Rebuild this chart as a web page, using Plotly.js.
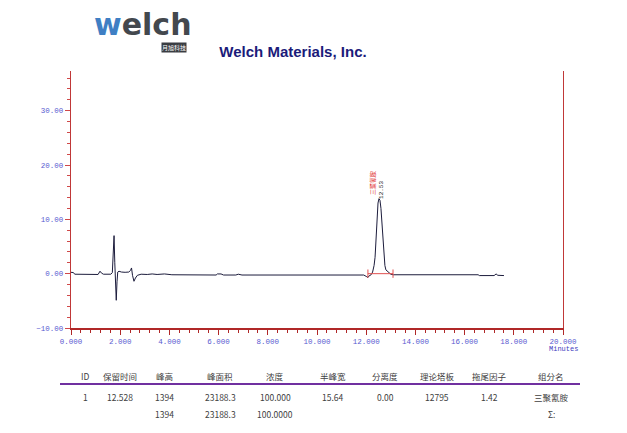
<!DOCTYPE html>
<html>
<head>
<meta charset="utf-8">
<script src="https://cdn.plot.ly/plotly-3.0.1.min.js"></script>
<style>
html,body{margin:0;padding:0;background:#fff;}
#chart{width:627px;height:433px;}
</style>
</head>
<body>
<div id="chart"></div>
<script>
// ---- data ----
const timeMin = [0.00,0.10,0.15,0.60,1.10,1.18,1.24,1.32,1.62,1.68,1.72,1.75,1.78,1.81,1.84,1.87,1.90,1.95,2.05,2.20,2.35,2.42,2.46,2.50,2.56,2.62,2.70,2.85,3.10,3.30,3.50,3.80,4.10,5.90,5.95,6.10,6.20,6.70,6.80,6.95,8.00,9.50,10.50,11.60,11.90,12.00,12.07,12.12,12.20,12.26,12.32,12.36,12.40,12.44,12.48,12.52,12.56,12.60,12.64,12.68,12.72,12.76,12.80,12.86,12.92,13.00,13.10,14.00,15.50,16.55,16.60,17.20,17.28,17.35,17.60];
const signal  = [0.25,0.20,-0.10,-0.15,-0.15,0.45,0.10,-0.10,-0.10,0.20,3.50,7.00,2.00,-3.00,-4.90,-1.50,0.30,0.45,0.30,0.25,0.30,0.60,1.05,-0.30,-1.40,-0.80,-0.30,-0.10,-0.15,-0.05,-0.15,-0.05,-0.20,-0.25,-0.05,-0.05,-0.25,-0.25,-0.10,-0.25,-0.25,-0.30,-0.25,-0.30,-0.25,-0.50,-0.70,-0.40,-0.20,0.30,1.50,3.00,6.50,10.50,13.00,13.80,13.50,12.00,9.00,5.50,3.00,1.50,0.70,0.40,0.20,-0.10,-0.20,-0.20,-0.25,-0.20,-0.35,-0.35,-0.05,-0.30,-0.35];
const baseT = [12.07, 13.09];
const baseY = [0, 0];
const peakName = '三聚氰胺';
const peakRT = '12.53';
const peakNameAt = [12.28, 16.7];
const peakRTAt = [12.64, 15.4];
const xTickFormat = '.3f';
const yTickFormat = '.2f';
const tableHeader = ['ID','保留时间','峰高','峰面积','浓度','半峰宽','分离度','理论塔板','拖尾因子','组分名'];
const tableRow1   = ['1','12.528','1394','23188.3','100.000','15.64','0.00','12795','1.42','三聚氰胺'];
const tableRow2   = ['','','1394','23188.3','100.0000','','','','','Σ:'];
const chartTitle = 'Welch Materials, Inc.';
const xUnit = 'Minutes';

// ---- layout helpers ----
const W = 627, H = 433;
const L = 71, R = 563, T = 71, B = 328;
const px = x => (x - L) / (R - L);
const py = y => (B - y) / (B - T);
const colX = [85, 120, 164, 220, 275, 333, 385, 437, 489, 551];
const rowY = [376, 397, 414];

const ann = [];
const tfont = {family:'Noto Sans CJK SC, SimSun, sans-serif', size:8.5, color:'#404040'};
[tableHeader, tableRow1, tableRow2].forEach((row, r) => {
  row.forEach((txt, c) => {
    if (!txt) return;
    ann.push({text: txt, xref:'paper', yref:'paper', x: px(colX[c]), y: py(rowY[r]),
      xanchor:'center', yanchor:'middle', showarrow:false, font: tfont});
  });
});
// peak labels
ann.push({text: peakName, x: peakNameAt[0], y: peakNameAt[1], xref:'x', yref:'y', showarrow:false,
  textangle:-90, font:{family:'Noto Sans CJK SC, sans-serif', size:6, color:'#e03030'}});
ann.push({text: peakRT, x: peakRTAt[0], y: peakRTAt[1], xref:'x', yref:'y', showarrow:false,
  textangle:-90, font:{family:'Liberation Mono, monospace', size:6, color:'#202020'}});
// x unit
ann.push({text: xUnit, xref:'paper', yref:'paper', x: px(563), y: py(349), xanchor:'left', yanchor:'middle',
  xshift:-16, showarrow:false, font:{family:'Liberation Mono, monospace', size:7, color:'#4040c0'}});
// logo
ann.push({text: '<b><span style="color:#3f7fc4">w</span>elch</b>', xref:'paper', yref:'paper',
  x: px(92), y: py(25), xanchor:'left', yanchor:'middle', showarrow:false,
  font:{family:'DejaVu Sans, sans-serif', size:30, color:'#43484e'}});
ann.push({text: '月旭科技', xref:'paper', yref:'paper', x: px(174), y: py(47), xanchor:'center', yanchor:'middle',
  showarrow:false, bgcolor:'#3a3d42', borderpad:0, font:{family:'Noto Sans CJK SC, sans-serif', size:6, color:'#ffffff'}});

const axisFont = {family:'Liberation Mono, monospace', size:7.5, color:'#5a5ad0'};

const traces = [
  {x: timeMin, y: signal, type:'scatter', mode:'lines', line:{color:'#1c1c3c', width:1}, hoverinfo:'skip'},
  {x: baseT, y: baseY, type:'scatter', mode:'lines+markers', line:{color:'#e05050', width:1},
   marker:{symbol:'line-ns-open', size:6, color:'#e05050', line:{color:'#e05050', width:1}}, hoverinfo:'skip'}
];

const layout = {
  width: W, height: H,
  margin: {l: L, r: W - R, t: T, b: H - B},
  paper_bgcolor:'#ffffff', plot_bgcolor:'#ffffff',
  showlegend:false,
  title: {text: chartTitle, x: 293 / W, xanchor:'center', y: 1 - 52 / H, yanchor:'middle',
    font:{family:'Liberation Sans, Arial, sans-serif', size:15, color:'#1b1b7a', weight:'bold'}},
  xaxis: {range:[0,20], dtick:2, tick0:0, tickformat:xTickFormat, showgrid:false, zeroline:false,
    showline:true, linecolor:'#b02828', linewidth:1.5, ticks:'outside', ticklen:5, tickcolor:'#b02828',
    minor:{dtick:0.4, ticks:'outside', ticklen:3, tickcolor:'#b02828', showgrid:false},
    tickfont: axisFont, fixedrange:true},
  yaxis: {range:[-10,37.3], dtick:10, tick0:0, tickformat:yTickFormat, showgrid:false, zeroline:false,
    showline:true, mirror:true, linecolor:'#c03838', linewidth:1.2, ticks:'outside', ticklen:5, tickcolor:'#d04848',
    minor:{dtick:2, ticks:'outside', ticklen:3, tickcolor:'#d04848', showgrid:false},
    tickfont: axisFont, fixedrange:true},
  annotations: ann,
  shapes: [
    {type:'line', xref:'paper', yref:'paper', x0: px(60), x1: px(580), y0: py(384), y1: py(384),
     line:{color:'#7030a0', width:2}}
  ]
};

Plotly.newPlot('chart', traces, layout, {displayModeBar:false, staticPlot:true});
</script>
</body>
</html>
